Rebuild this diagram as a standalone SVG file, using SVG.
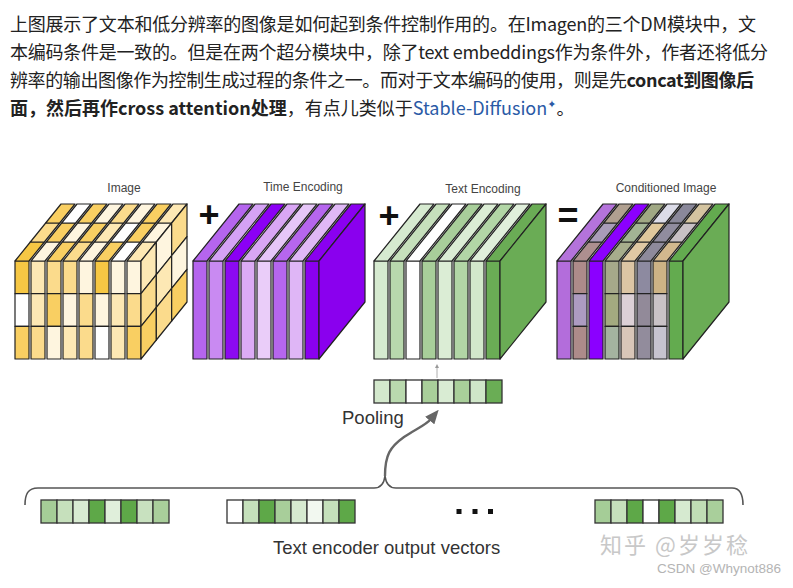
<svg xmlns="http://www.w3.org/2000/svg" width="793" height="588" viewBox="0 0 793 588">
<defs>
<style>
.p{font-family:"Noto Sans CJK SC","Noto Sans",sans-serif;font-size:18px;fill:#222}
.b{font-weight:bold}
.lk{fill:#2a5aa6}
.lbl{font-family:"Liberation Sans",Arial,sans-serif;font-size:12px;fill:#444;text-anchor:middle}
.op{font-family:"Liberation Sans",Arial,sans-serif;font-size:36px;font-weight:bold;fill:#111;text-anchor:middle}
.big{font-family:"Liberation Sans",Arial,sans-serif;font-size:18.5px;fill:#333}
.s{stroke:#222;stroke-width:1.2;stroke-linejoin:round}
.c{stroke:#333;stroke-width:1.3}
.y0{fill:#ffffff}.y1{fill:#fef5df}.y2{fill:#fde8b4}.y3{fill:#fbdb8c}.y4{fill:#f9cf62}.y5{fill:#f6c744}
.brace{fill:none;stroke:#555;stroke-width:1.6}
.arr{fill:none;stroke:#666;stroke-width:2.4}
</style>
<marker id="ah" markerUnits="userSpaceOnUse" markerWidth="14" markerHeight="12" viewBox="0 0 14 12" refX="2" refY="6" orient="auto">
<path d="M0,0 L14,6 L0,12 z" fill="#666"/>
</marker>
<marker id="ah2" markerUnits="userSpaceOnUse" markerWidth="4" markerHeight="4" viewBox="0 0 4 4" refX="1" refY="2" orient="auto">
<path d="M0,0 L4,2 L0,4 z" fill="#999"/>
</marker>
</defs>
<rect x="0" y="0" width="793" height="588" fill="#ffffff"/>

<g id="caption">
<text class="p" x="10" y="31" textLength="746">上图展示了文本和低分辨率的图像是如何起到条件控制作用的。在Imagen的三个DM模块中，文</text>
<text class="p" x="10" y="59" textLength="758">本编码条件是一致的。但是在两个超分模块中，除了text embeddings作为条件外，作者还将低分</text>
<text class="p" x="10" y="87" textLength="744">辨率的输出图像作为控制生成过程的条件之一。而对于文本编码的使用，则是先<tspan class="b">concat到图像后</tspan></text>
<text class="p" x="10" y="115"><tspan class="b">面，然后再作cross attention处理</tspan>，有点儿类似于<tspan class="lk">Stable-Diffusion</tspan><tspan class="lk" font-family="DejaVu Sans" font-size="11" dy="-7">✦</tspan><tspan dy="7">。</tspan></text>
</g>

<g id="image-cube" transform="translate(15,0)">
<g transform="translate(0,0)">
<rect class="s y5" x="0" y="261" width="14" height="32.67"/><rect class="s y0" x="0" y="293.67" width="14" height="32.67"/><rect class="s y4" x="0" y="326.33" width="14" height="32.67"/>
<polygon class="s y5" points="0,261 14,261 29.33,242 15.33,242"/><polygon class="s y3" points="15.33,242 29.33,242 44.67,223 30.67,223"/><polygon class="s y4" points="30.67,223 44.67,223 60,204 46,204"/>
</g>
<g transform="translate(16,0)">
<rect class="s y2" x="0" y="261" width="14" height="32.67"/><rect class="s y2" x="0" y="293.67" width="14" height="32.67"/><rect class="s y3" x="0" y="326.33" width="14" height="32.67"/>
<polygon class="s y1" points="0,261 14,261 29.33,242 15.33,242"/><polygon class="s y4" points="15.33,242 29.33,242 44.67,223 30.67,223"/><polygon class="s y0" points="30.67,223 44.67,223 60,204 46,204"/>
</g>
<g transform="translate(32,0)">
<rect class="s y3" x="0" y="261" width="14" height="32.67"/><rect class="s y4" x="0" y="293.67" width="14" height="32.67"/><rect class="s y1" x="0" y="326.33" width="14" height="32.67"/>
<polygon class="s y4" points="0,261 14,261 29.33,242 15.33,242"/><polygon class="s y1" points="15.33,242 29.33,242 44.67,223 30.67,223"/><polygon class="s y4" points="30.67,223 44.67,223 60,204 46,204"/>
</g>
<g transform="translate(48,0)">
<rect class="s y3" x="0" y="261" width="14" height="32.67"/><rect class="s y1" x="0" y="293.67" width="14" height="32.67"/><rect class="s y2" x="0" y="326.33" width="14" height="32.67"/>
<polygon class="s y3" points="0,261 14,261 29.33,242 15.33,242"/><polygon class="s y4" points="15.33,242 29.33,242 44.67,223 30.67,223"/><polygon class="s y1" points="30.67,223 44.67,223 60,204 46,204"/>
</g>
<g transform="translate(64,0)">
<rect class="s y1" x="0" y="261" width="14" height="32.67"/><rect class="s y3" x="0" y="293.67" width="14" height="32.67"/><rect class="s y3" x="0" y="326.33" width="14" height="32.67"/>
<polygon class="s y1" points="0,261 14,261 29.33,242 15.33,242"/><polygon class="s y2" points="15.33,242 29.33,242 44.67,223 30.67,223"/><polygon class="s y3" points="30.67,223 44.67,223 60,204 46,204"/>
</g>
<g transform="translate(80,0)">
<rect class="s y5" x="0" y="261" width="14" height="32.67"/><rect class="s y1" x="0" y="293.67" width="14" height="32.67"/><rect class="s y0" x="0" y="326.33" width="14" height="32.67"/>
<polygon class="s y4" points="0,261 14,261 29.33,242 15.33,242"/><polygon class="s y0" points="15.33,242 29.33,242 44.67,223 30.67,223"/><polygon class="s y1" points="30.67,223 44.67,223 60,204 46,204"/>
</g>
<g transform="translate(96,0)">
<rect class="s y1" x="0" y="261" width="14" height="32.67"/><rect class="s y2" x="0" y="293.67" width="14" height="32.67"/><rect class="s y2" x="0" y="326.33" width="14" height="32.67"/>
<polygon class="s y0" points="0,261 14,261 29.33,242 15.33,242"/><polygon class="s y4" points="15.33,242 29.33,242 44.67,223 30.67,223"/><polygon class="s y4" points="30.67,223 44.67,223 60,204 46,204"/>
</g>
<g transform="translate(112,0)">
<rect class="s y1" x="0" y="261" width="14" height="32.67"/><rect class="s y3" x="0" y="293.67" width="14" height="32.67"/><rect class="s y4" x="0" y="326.33" width="14" height="32.67"/>
<polygon class="s y2" points="0,261 14,261 29.33,242 15.33,242"/><polygon class="s y1" points="15.33,242 29.33,242 44.67,223 30.67,223"/><polygon class="s y2" points="30.67,223 44.67,223 60,204 46,204"/>
</g>
<polygon class="s y2" points="126,261 141.33,242 141.33,274.67 126,293.67"/>
<polygon class="s y3" points="126,293.67 141.33,274.67 141.33,307.33 126,326.33"/>
<polygon class="s y4" points="126,326.33 141.33,307.33 141.33,340 126,359"/>
<polygon class="s y1" points="141.33,242 156.67,223 156.67,255.67 141.33,274.67"/>
<polygon class="s y2" points="141.33,274.67 156.67,255.67 156.67,288.33 141.33,307.33"/>
<polygon class="s y3" points="141.33,307.33 156.67,288.33 156.67,321 141.33,340"/>
<polygon class="s y3" points="156.67,223 172,204 172,236.67 156.67,255.67"/>
<polygon class="s y1" points="156.67,255.67 172,236.67 172,269.33 156.67,288.33"/>
<polygon class="s y4" points="156.67,288.33 172,269.33 172,302 156.67,321"/>
<text class="lbl" x="109" y="192">Image</text>
</g>

<g id="op-plus-1"><text class="op" x="209" y="227">+</text></g>

<g id="time-encoding" transform="translate(193,0)">
<g transform="translate(0,0)"><rect class="s" fill="#b565ee" x="0" y="261" width="14" height="98"/><polygon class="s" fill="#b565ee" points="0,261 14,261 60,204 46,204"/></g>
<g transform="translate(16,0)"><rect class="s" fill="#c98af2" x="0" y="261" width="14" height="98"/><polygon class="s" fill="#d5a2f5" points="0,261 14,261 60,204 46,204"/></g>
<g transform="translate(32,0)"><rect class="s" fill="#8c0af2" x="0" y="261" width="14" height="98"/><polygon class="s" fill="#8b00f5" points="0,261 14,261 60,204 46,204"/></g>
<g transform="translate(48,0)"><rect class="s" fill="#dcabf5" x="0" y="261" width="14" height="98"/><polygon class="s" fill="#d9a6f4" points="0,261 14,261 60,204 46,204"/></g>
<g transform="translate(64,0)"><rect class="s" fill="#eacdf9" x="0" y="261" width="14" height="98"/><polygon class="s" fill="#e6c6f8" points="0,261 14,261 60,204 46,204"/></g>
<g transform="translate(80,0)"><rect class="s" fill="#b666ee" x="0" y="261" width="14" height="98"/><polygon class="s" fill="#b666ee" points="0,261 14,261 60,204 46,204"/></g>
<g transform="translate(96,0)"><rect class="s" fill="#dfb6f6" x="0" y="261" width="14" height="98"/><polygon class="s" fill="#e0b8f6" points="0,261 14,261 60,204 46,204"/></g>
<g transform="translate(112,0)"><rect class="s" fill="#8a00f0" x="0" y="261" width="14" height="98"/><polygon class="s" fill="#8a00f0" points="0,261 14,261 60,204 46,204"/></g>
<polygon class="s" fill="#8a00ee" points="126,261 172,204 172,302 126,359"/>
<text class="lbl" x="110" y="191">Time Encoding</text>
</g>

<g id="op-plus-2"><text class="op" x="389" y="228">+</text></g>

<g id="text-encoding" transform="translate(374,0)">
<g transform="translate(0,0)"><rect class="s" fill="#d6ead0" x="0" y="261" width="14" height="98"/><polygon class="s" fill="#d6ead0" points="0,261 14,261 60,204 46,204"/></g>
<g transform="translate(16,0)"><rect class="s" fill="#b8d8ad" x="0" y="261" width="14" height="98"/><polygon class="s" fill="#c6e0bc" points="0,261 14,261 60,204 46,204"/></g>
<g transform="translate(32,0)"><rect class="s" fill="#ffffff" x="0" y="261" width="14" height="98"/><polygon class="s" fill="#ffffff" points="0,261 14,261 60,204 46,204"/></g>
<g transform="translate(48,0)"><rect class="s" fill="#a8ce9a" x="0" y="261" width="14" height="98"/><polygon class="s" fill="#a8ce9a" points="0,261 14,261 60,204 46,204"/></g>
<g transform="translate(64,0)"><rect class="s" fill="#dbedd5" x="0" y="261" width="14" height="98"/><polygon class="s" fill="#dbedd5" points="0,261 14,261 60,204 46,204"/></g>
<g transform="translate(80,0)"><rect class="s" fill="#b2d6a6" x="0" y="261" width="14" height="98"/><polygon class="s" fill="#b2d6a6" points="0,261 14,261 60,204 46,204"/></g>
<g transform="translate(96,0)"><rect class="s" fill="#d2e8cb" x="0" y="261" width="14" height="98"/><polygon class="s" fill="#e0efdb" points="0,261 14,261 60,204 46,204"/></g>
<g transform="translate(112,0)"><rect class="s" fill="#6aac55" x="0" y="261" width="14" height="98"/><polygon class="s" fill="#6aac55" points="0,261 14,261 60,204 46,204"/></g>
<polygon class="s" fill="#6aac55" points="126,261 172,204 172,302 126,359"/>
<text class="lbl" x="109" y="193">Text Encoding</text>
</g>

<g id="op-equals"><text class="op" x="568" y="228">=</text></g>

<g id="conditioned-image" transform="translate(557,0)">
<g transform="translate(0,0)"><rect class="s" fill="#b36ddb" x="0" y="261" width="14" height="98"/><polygon class="s" fill="#b473db" points="0,261 14,261 60,204 46,204"/></g>
<g transform="translate(16,0)">
<rect class="s" fill="#ad8b8a" x="0" y="261" width="14" height="32.67"/><rect class="s" fill="#ad9bc2" x="0" y="293.67" width="14" height="32.67"/><rect class="s" fill="#ad8b8a" x="0" y="326.33" width="14" height="32.67"/>
<polygon class="s" fill="#ad8f8f" points="0,261 14,261 29.33,242 15.33,242"/><polygon class="s" fill="#a99cb8" points="15.33,242 29.33,242 44.67,223 30.67,223"/><polygon class="s" fill="#b0a090" points="30.67,223 44.67,223 60,204 46,204"/>
</g>
<g transform="translate(32,0)"><rect class="s" fill="#8b00ff" x="0" y="261" width="14" height="98"/><polygon class="s" fill="#8b00ff" points="0,261 14,261 60,204 46,204"/></g>
<g transform="translate(48,0)">
<rect class="s" fill="#a6a98a" x="0" y="261" width="14" height="32.67"/><rect class="s" fill="#a3aa80" x="0" y="293.67" width="14" height="32.67"/><rect class="s" fill="#a4b3a0" x="0" y="326.33" width="14" height="32.67"/>
<polygon class="s" fill="#a7ad8c" points="0,261 14,261 29.33,242 15.33,242"/><polygon class="s" fill="#a3b494" points="15.33,242 29.33,242 44.67,223 30.67,223"/><polygon class="s" fill="#a0a884" points="30.67,223 44.67,223 60,204 46,204"/>
</g>
<g transform="translate(64,0)">
<rect class="s" fill="#dcc5a4" x="0" y="261" width="14" height="32.67"/><rect class="s" fill="#dcd0d6" x="0" y="293.67" width="14" height="32.67"/><rect class="s" fill="#d8c6b8" x="0" y="326.33" width="14" height="32.67"/>
<polygon class="s" fill="#e0c8a4" points="0,261 14,261 29.33,242 15.33,242"/><polygon class="s" fill="#e0c89c" points="15.33,242 29.33,242 44.67,223 30.67,223"/><polygon class="s" fill="#dcdce8" points="30.67,223 44.67,223 60,204 46,204"/>
</g>
<g transform="translate(80,0)">
<rect class="s" fill="#8d8aa0" x="0" y="261" width="14" height="32.67"/><rect class="s" fill="#928a99" x="0" y="293.67" width="14" height="32.67"/><rect class="s" fill="#928c9c" x="0" y="326.33" width="14" height="32.67"/>
<polygon class="s" fill="#8e8a9c" points="0,261 14,261 29.33,242 15.33,242"/><polygon class="s" fill="#908c9e" points="15.33,242 29.33,242 44.67,223 30.67,223"/><polygon class="s" fill="#8a889a" points="30.67,223 44.67,223 60,204 46,204"/>
</g>
<g transform="translate(96,0)">
<rect class="s" fill="#cdb385" x="0" y="261" width="14" height="32.67"/><rect class="s" fill="#c9c2c6" x="0" y="293.67" width="14" height="32.67"/><rect class="s" fill="#c6c3cf" x="0" y="326.33" width="14" height="32.67"/>
<polygon class="s" fill="#d2b88e" points="0,261 14,261 29.33,242 15.33,242"/><polygon class="s" fill="#c8c0c4" points="15.33,242 29.33,242 44.67,223 30.67,223"/><polygon class="s" fill="#d4c4a0" points="30.67,223 44.67,223 60,204 46,204"/>
</g>
<g transform="translate(112,0)"><rect class="s" fill="#63ab4f" x="0" y="261" width="14" height="98"/><polygon class="s" fill="#63ab4f" points="0,261 14,261 60,204 46,204"/></g>
<polygon class="s" fill="#6aac55" points="126,261 172,204 172,302 126,359"/>
<text class="lbl" x="109" y="192">Conditioned Image</text>
</g>

<g id="pooled-vector" transform="translate(374,380)">
<rect class="c" fill="#d3e8cc" x="0" y="0" width="16" height="23"/>
<rect class="c" fill="#b9d9ae" x="16" y="0" width="16" height="23"/>
<rect class="c" fill="#ffffff" x="32" y="0" width="16" height="23"/>
<rect class="c" fill="#a9cf9a" x="48" y="0" width="16" height="23"/>
<rect class="c" fill="#d9ecd3" x="64" y="0" width="16" height="23"/>
<rect class="c" fill="#a9cf9a" x="80" y="0" width="16" height="23"/>
<rect class="c" fill="#cfe6c8" x="96" y="0" width="16" height="23"/>
<rect class="c" fill="#6aad55" x="112" y="0" width="16" height="23"/>
</g>

<g id="pooling-label"><text class="big" x="342" y="424" font-size="18">Pooling</text></g>

<g id="vector-1" transform="translate(41,500)">
<rect class="c" fill="#a5cd97" x="0" y="0" width="16" height="23"/>
<rect class="c" fill="#c6e0bc" x="16" y="0" width="16" height="23"/>
<rect class="c" fill="#d8ebd2" x="32" y="0" width="16" height="23"/>
<rect class="c" fill="#5ea848" x="48" y="0" width="16" height="23"/>
<rect class="c" fill="#e0efdb" x="64" y="0" width="16" height="23"/>
<rect class="c" fill="#5ea848" x="80" y="0" width="16" height="23"/>
<rect class="c" fill="#c8e1bf" x="96" y="0" width="16" height="23"/>
<rect class="c" fill="#a9cf9b" x="112" y="0" width="16" height="23"/>
</g>
<g id="vector-2" transform="translate(227,500)">
<rect class="c" fill="#ffffff" x="0" y="0" width="16" height="23"/>
<rect class="c" fill="#c5e0bb" x="16" y="0" width="16" height="23"/>
<rect class="c" fill="#5ea848" x="32" y="0" width="16" height="23"/>
<rect class="c" fill="#a8ce9a" x="48" y="0" width="16" height="23"/>
<rect class="c" fill="#d6ead0" x="64" y="0" width="16" height="23"/>
<rect class="c" fill="#f2f8f0" x="80" y="0" width="16" height="23"/>
<rect class="c" fill="#c5e0bb" x="96" y="0" width="16" height="23"/>
<rect class="c" fill="#5ea848" x="112" y="0" width="16" height="23"/>
</g>
<g id="ellipsis">
<rect x="456.5" y="509" width="5" height="5" fill="#111"/>
<rect x="472.5" y="509" width="5" height="5" fill="#111"/>
<rect x="488" y="509" width="5" height="5" fill="#111"/>
</g>
<g id="vector-n" transform="translate(595,500)">
<rect class="c" fill="#a5cd97" x="0" y="0" width="16" height="23"/>
<rect class="c" fill="#c6e0bc" x="16" y="0" width="16" height="23"/>
<rect class="c" fill="#5ea848" x="32" y="0" width="16" height="23"/>
<rect class="c" fill="#ffffff" x="48" y="0" width="16" height="23"/>
<rect class="c" fill="#5ea848" x="64" y="0" width="16" height="23"/>
<rect class="c" fill="#d6ead0" x="80" y="0" width="16" height="23"/>
<rect class="c" fill="#c0ddb5" x="96" y="0" width="16" height="23"/>
<rect class="c" fill="#a9cf9b" x="112" y="0" width="16" height="23"/>
</g>

<g id="connectors">
<path class="brace" d="M25,505 C25,494 28,488 38,488 L374,488 C380,488 384,484 385,476 C386,484 390,488 396,488 L732,488 C740,488 743,494 743,505"/>
<path class="arr" d="M385,476 C385,455 390,447 404,437 C416,429 426,425 431,419" marker-end="url(#ah)"/>
<line x1="437" y1="378" x2="437" y2="367" stroke="#999" stroke-width="0.8" marker-end="url(#ah2)"/>
</g>

<g id="output-label"><text class="big" x="273" y="554">Text encoder output vectors</text></g>

<g id="watermark">
<text x="600" y="553" font-family="Noto Sans CJK SC,sans-serif" font-size="22" fill="#c8c8c8" textLength="148">知乎 @岁岁稔</text>
<text x="657" y="573" font-family="Liberation Sans,Arial,sans-serif" font-size="13.5" fill="#b4b4b4">CSDN @Whynot886</text>
</g>
</svg>
